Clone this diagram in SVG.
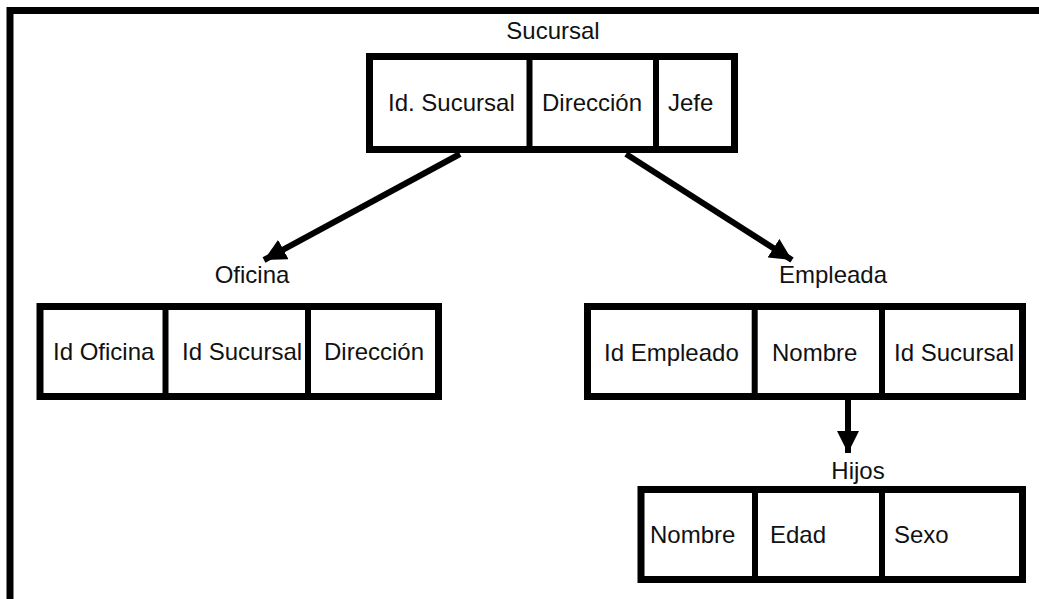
<svg xmlns="http://www.w3.org/2000/svg" width="1039" height="599" viewBox="0 0 1039 599">
<style>
.box{fill:#fff;stroke:#000;stroke-width:7}
.div{stroke:#000;stroke-width:6}
.t{font-family:"Liberation Sans",Arial,sans-serif;font-size:24px;fill:#111}
.c{text-anchor:middle}
.edge{stroke:#000;stroke-width:6;fill:none}
</style>
<defs>
<marker id="ah" markerUnits="userSpaceOnUse" markerWidth="24" markerHeight="22" refX="22" refY="11" orient="auto">
<path d="M0,0 L22,11 L0,22 Z" fill="#000"/>
</marker>
</defs>
<rect x="10" y="10.5" width="1100" height="700" fill="#fff" stroke="#000" stroke-width="7"/>
<g id="sucursal">
<text class="t c" x="553" y="39">Sucursal</text>
<rect class="box" x="369.5" y="56.5" width="365" height="93"/>
<line class="div" x1="529.5" y1="56.5" x2="529.5" y2="149.5"/>
<line class="div" x1="656" y1="56.5" x2="656" y2="149.5"/>
<text class="t" x="388" y="111">Id. Sucursal</text>
<text class="t" x="542" y="111">Dirección</text>
<text class="t" x="668" y="111">Jefe</text>
</g>
<g id="oficina">
<text class="t c" x="252" y="283">Oficina</text>
<rect class="box" x="40" y="306.5" width="398.5" height="90"/>
<line class="div" x1="165.5" y1="306.5" x2="165.5" y2="396.5"/>
<line class="div" x1="308" y1="306.5" x2="308" y2="396.5"/>
<text class="t" x="53" y="360">Id Oficina</text>
<text class="t" x="182" y="360">Id Sucursal</text>
<text class="t" x="324" y="360">Dirección</text>
</g>
<g id="empleada">
<text class="t c" x="833" y="283">Empleada</text>
<rect class="box" x="587.5" y="306.5" width="435" height="90"/>
<line class="div" x1="754.7" y1="306.5" x2="754.7" y2="396.5"/>
<line class="div" x1="882" y1="306.5" x2="882" y2="396.5"/>
<text class="t" x="604" y="361">Id Empleado</text>
<text class="t" x="772" y="361">Nombre</text>
<text class="t" x="894" y="361">Id Sucursal</text>
</g>
<g id="hijos">
<text class="t c" x="858" y="479">Hijos</text>
<rect class="box" x="641" y="489.5" width="381.5" height="90"/>
<line class="div" x1="755" y1="489.5" x2="755" y2="579.5"/>
<line class="div" x1="882" y1="489.5" x2="882" y2="579.5"/>
<text class="t" x="650" y="543">Nombre</text>
<text class="t" x="770" y="543">Edad</text>
<text class="t" x="894" y="543">Sexo</text>
</g>
<g id="connectors">
<line class="edge" x1="460" y1="154" x2="264" y2="260" marker-end="url(#ah)"/>
<line class="edge" x1="626" y1="154" x2="792" y2="260" marker-end="url(#ah)"/>
<line class="edge" x1="848" y1="400" x2="848" y2="453" marker-end="url(#ah)"/>
</g>
</svg>
